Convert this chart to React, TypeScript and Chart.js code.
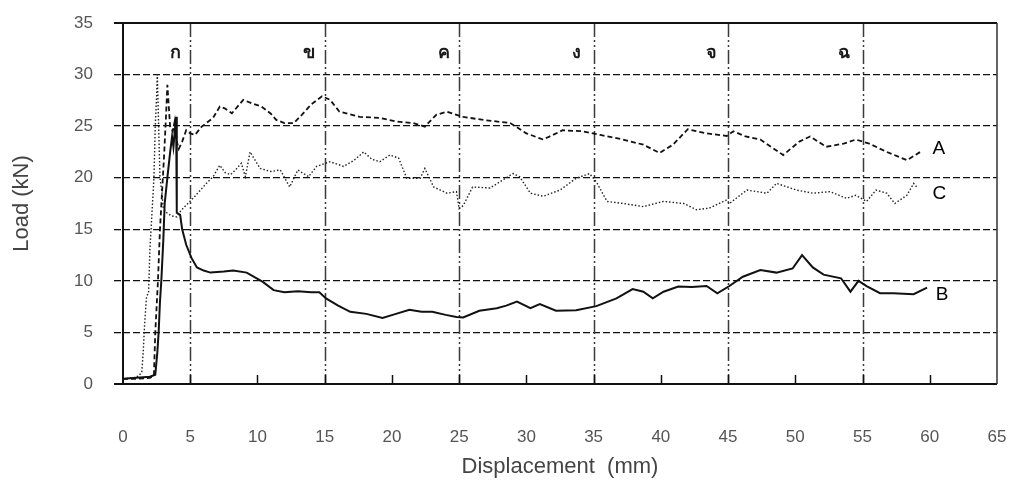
import { useEffect, useRef } from 'react';
import { Chart, registerables } from 'chart.js';

Chart.register(...registerables);

// ---- data ----
const dispA = [0, 1.0, 2.0, 2.3, 2.4, 2.6, 2.75, 2.9, 3.05, 3.2, 3.3, 3.4, 3.5, 3.7, 3.85, 4.0, 4.15, 4.4, 4.7, 5.0, 5.35, 5.85, 6.2, 6.7, 7.2, 7.6, 8.1, 8.95, 9.6, 10.3, 11.0, 11.4, 12.0, 12.7, 13.3, 14.0, 14.8, 15.4, 16.1, 17.6, 19.1, 20.35, 21.6, 22.45, 23.3, 24.1, 24.8, 25.3, 26.8, 28.8, 30.0, 31.25, 32.7, 34.2, 35.5, 37.2, 38.7, 39.9, 40.9, 42.0, 43.4, 44.9, 45.4, 46.3, 47.4, 49.1, 50.3, 51.1, 52.3, 53.6, 54.5, 55.5, 56.8, 58.3, 59.3];
const loadA = [0.5, 0.5, 0.6, 0.8, 5, 10, 15, 18.5, 22, 26, 29, 27, 25, 24.5, 25.5, 23.5, 22.8, 23.5, 24.6, 24.3, 24.15, 24.95, 25.3, 25.8, 26.9, 26.7, 26.25, 27.55, 27.2, 26.9, 26.2, 25.6, 25.3, 25.3, 26.1, 27.1, 27.9, 27.55, 26.4, 25.9, 25.8, 25.45, 25.3, 24.95, 26.1, 26.4, 26.1, 25.9, 25.6, 25.3, 24.3, 23.7, 24.6, 24.5, 24.15, 23.7, 23.2, 22.4, 23.2, 24.7, 24.3, 24.05, 24.5, 24.0, 23.7, 22.2, 23.5, 24.0, 23.0, 23.3, 23.7, 23.3, 22.5, 21.7, 22.5];

const dispB = [0, 1.0, 2.0, 2.4, 2.55, 2.65, 2.75, 2.85, 3.0, 3.1, 3.3, 3.5, 3.65, 3.75, 3.95, 4.0, 4.25, 4.4, 4.7, 5.1, 5.5, 6.0, 6.5, 7.5, 8.2, 9.2, 10.4, 11.2, 12.0, 13.0, 14.0, 14.6, 15.1, 16.0, 16.9, 18.1, 19.3, 20.3, 21.3, 22.2, 23.0, 24.0, 24.8, 25.3, 26.5, 27.8, 28.5, 29.3, 30.3, 31.0, 32.2, 33.7, 35.2, 36.7, 37.9, 38.7, 39.4, 40.2, 41.3, 42.3, 43.4, 44.2, 45.1, 46.1, 47.4, 48.6, 49.8, 50.5, 51.3, 52.1, 53.4, 54.1, 54.7, 55.3, 56.3, 57.3, 58.8, 59.8];
const loadB = [0.5, 0.6, 0.7, 0.9, 3, 5, 8, 10, 14, 17.5, 20, 22.4, 24, 23, 25.9, 16.6, 16.4, 15, 13.5, 12.2, 11.3, 11.0, 10.8, 10.9, 11.0, 10.8, 9.9, 9.1, 8.9, 9.0, 8.9, 8.9, 8.3, 7.6, 7.0, 6.8, 6.4, 6.8, 7.2, 7.0, 7.0, 6.7, 6.5, 6.45, 7.1, 7.35, 7.6, 8.0, 7.35, 7.75, 7.1, 7.15, 7.55, 8.3, 9.2, 8.95, 8.3, 8.95, 9.45, 9.4, 9.5, 8.8, 9.5, 10.4, 11.05, 10.8, 11.2, 12.5, 11.3, 10.6, 10.25, 8.95, 10.0, 9.5, 8.8, 8.8, 8.7, 9.35];

const dispC = [0, 0.8, 1.2, 1.4, 1.5, 1.6, 1.75, 1.9, 2.0, 2.1, 2.3, 2.4, 2.5, 2.55, 2.65, 2.75, 2.9, 3.0, 3.25, 3.6, 4.0, 4.3, 4.6, 5.35, 6.2, 6.7, 7.2, 7.6, 8.0, 8.4, 8.8, 9.1, 9.45, 10.2, 11.0, 11.7, 12.4, 13.0, 13.8, 14.4, 15.4, 16.4, 17.2, 17.9, 18.5, 19.1, 19.85, 20.5, 21.1, 22.1, 22.45, 23.1, 24.1, 24.8, 25.0, 25.3, 26.0, 27.3, 29.0, 29.5, 30.3, 31.25, 32.5, 33.7, 34.7, 35.2, 36.0, 37.2, 38.7, 40.2, 41.7, 42.65, 43.6, 44.9, 45.1, 46.4, 47.9, 48.6, 50.1, 51.3, 52.6, 53.8, 54.5, 55.3, 56.0, 56.8, 57.4, 58.3, 58.8, 59.1];
const loadC = [0.5, 0.6, 0.8, 1.2, 3, 5.6, 8.5, 8.8, 13, 15.3, 20, 25, 28, 30.0, 25, 20, 18.5, 17, 16.6, 16.3, 16.2, 16.8, 17.2, 18.2, 19.45, 20.1, 21.2, 20.5, 20.3, 20.8, 21.4, 20.1, 22.5, 20.9, 20.6, 20.75, 19.1, 20.75, 20.1, 21.1, 21.55, 21.1, 21.7, 22.5, 21.8, 21.55, 22.2, 21.9, 19.95, 19.95, 20.9, 19.1, 18.5, 18.65, 17.0, 17.3, 19.1, 19.0, 20.4, 20.1, 18.5, 18.2, 18.8, 19.95, 20.4, 19.6, 17.7, 17.5, 17.2, 17.7, 17.5, 16.9, 17.05, 17.85, 17.5, 18.8, 18.5, 19.45, 18.8, 18.5, 18.65, 18.0, 18.3, 17.7, 18.8, 18.5, 17.5, 18.3, 19.45, 19.0];

const zoneBoundaries = [5, 15, 25, 35, 45, 55];
const zoneLabels = ['ก', 'ข', 'ค', 'ง', 'จ', 'ฉ'];
const zoneLabelX = [3.94, 13.8, 23.87, 33.7, 43.8, 53.6];
const zoneLabelY = 32.1;

const seriesTags = ['A', 'B', 'C'];
const seriesTagX = [60.2, 60.45, 60.2];
const seriesTagY = [22.8, 8.7, 18.4];

const xTickValues = [5, 10, 15, 20, 25, 30, 35, 40, 45, 50, 55, 60];

const FONT = '"Liberation Sans", Arial, sans-serif';

const pts = (xs: number[], ys: number[]) => xs.map((x, i) => ({ x, y: ys[i] }));

const zeroPad = (s: any) => {
  s.paddingLeft = 0;
  s.paddingRight = 0;
  s.paddingTop = 0;
  s.paddingBottom = 0;
};

const decorPlugin = {
  id: 'decor',
  beforeDatasetsDraw(chart: any) {
    const { ctx, chartArea, scales } = chart;
    const xs = scales.x;
    ctx.save();
    ctx.strokeStyle = '#3a3a3a';
    ctx.lineWidth = 1.5;
    ctx.setLineDash([14, 3, 2, 3, 2, 3]);
    zoneBoundaries.forEach((v) => {
      const px = Math.round(xs.getPixelForValue(v)) + 0.5;
      ctx.beginPath();
      ctx.moveTo(px, chartArea.top);
      ctx.lineTo(px, chartArea.bottom);
      ctx.stroke();
    });
    ctx.restore();
  },
  afterDatasetsDraw(chart: any) {
    const { ctx, chartArea, scales } = chart;
    const xs = scales.x;
    const ys = scales.y;
    const { left, right, top, bottom } = chartArea;
    ctx.save();
    ctx.setLineDash([]);
    ctx.strokeStyle = '#111';
    ctx.lineWidth = 2;
    ctx.beginPath();
    ctx.moveTo(left - 9, top);
    ctx.lineTo(right, top);
    ctx.moveTo(left - 9, bottom);
    ctx.lineTo(right, bottom);
    ctx.moveTo(left, top);
    ctx.lineTo(left, bottom);
    ctx.stroke();
    ctx.lineWidth = 1.5;
    ctx.strokeStyle = '#333';
    ctx.beginPath();
    ctx.moveTo(right, top);
    ctx.lineTo(right, bottom);
    ctx.stroke();
    ctx.lineWidth = 1.5;
    ctx.strokeStyle = '#111';
    xTickValues.forEach((v) => {
      const px = Math.round(xs.getPixelForValue(v)) + 0.5;
      ctx.beginPath();
      ctx.moveTo(px, bottom);
      ctx.lineTo(px, bottom - 9);
      ctx.stroke();
    });
    ctx.fillStyle = '#1a1a1a';
    ctx.textAlign = 'center';
    ctx.textBaseline = 'middle';
    ctx.font = 'bold 18px "Noto Sans", "DejaVu Sans", sans-serif';
    zoneLabels.forEach((t, i) => {
      ctx.fillText(t, xs.getPixelForValue(zoneLabelX[i]), ys.getPixelForValue(zoneLabelY));
    });
    ctx.fillStyle = '#000';
    ctx.textAlign = 'left';
    ctx.font = '19px ' + FONT;
    seriesTags.forEach((t, i) => {
      ctx.fillText(t, xs.getPixelForValue(seriesTagX[i]), ys.getPixelForValue(seriesTagY[i]));
    });
    ctx.restore();
  },
};

export default function App() {
  const ref = useRef<HTMLCanvasElement>(null);
  useEffect(() => {
    const chart = new Chart(ref.current as HTMLCanvasElement, {
      type: 'line',
      data: {
        datasets: [
          { label: 'A', data: pts(dispA, loadA), borderColor: '#111', borderWidth: 1.8, borderDash: [5, 3], pointRadius: 0, tension: 0, fill: false },
          { label: 'B', data: pts(dispB, loadB), borderColor: '#111', borderWidth: 2, pointRadius: 0, tension: 0, fill: false },
          { label: 'C', data: pts(dispC, loadC), borderColor: '#222', borderWidth: 1.4, borderDash: [1.5, 2], pointRadius: 0, tension: 0, fill: false },
        ],
      },
      options: {
        responsive: false,
        animation: false,
        devicePixelRatio: 1,
        layout: { autoPadding: false, padding: { left: 0, top: 23, right: 20, bottom: 0 } },
        plugins: { legend: { display: false }, tooltip: { enabled: false } },
        scales: {
          x: {
            type: 'linear',
            min: 0,
            max: 65,
            ticks: { stepSize: 5, padding: 35, color: '#555', font: { family: FONT, size: 17 } },
            grid: { display: false },
            border: { display: false },
            title: { display: true, text: 'Displacement  (mm)', color: '#444', font: { family: FONT, size: 22 }, padding: { top: 0, bottom: 15 } },
            afterFit: (s: any) => { s.height = 111; zeroPad(s); },
          },
          y: {
            type: 'linear',
            min: 0,
            max: 35,
            ticks: { stepSize: 5, padding: 21, color: '#555', font: { family: FONT, size: 17 } },
            grid: {
              color: (c: any) => (c.tick && (c.tick.value === 0 || c.tick.value === 35) ? 'rgba(0,0,0,0)' : '#111'),
              lineWidth: 1.3,
              tickLength: 9,
              tickColor: '#111',
              tickBorderDash: [7, 3],
            },
            border: { display: false, dash: [7, 3] },
            title: { display: true, text: 'Load (kN)', color: '#444', font: { family: FONT, size: 22 }, padding: { top: 9, bottom: 0 } },
            afterFit: (s: any) => { s.width = 123; zeroPad(s); },
          },
        },
      },
      plugins: [decorPlugin],
    } as any);
    return () => chart.destroy();
  }, []);
  return (
    <div style={{ position: 'fixed', left: 0, top: 0, width: 1017, height: 495, background: '#fff' }}>
      <canvas ref={ref} width={1017} height={495} style={{ width: 1017, height: 495, display: 'block' }} />
    </div>
  );
}
